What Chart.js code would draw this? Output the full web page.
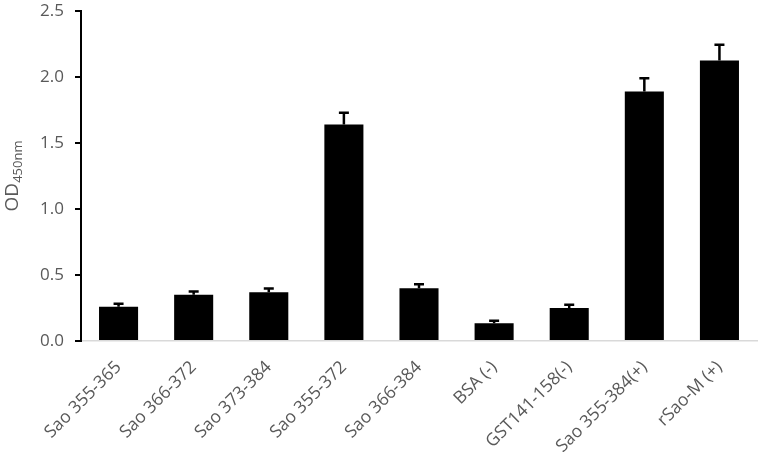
<!DOCTYPE html>
<html>
<head>
<meta charset="utf-8">
<script src="https://cdn.jsdelivr.net/npm/chart.js@4"></script>
<style>
    html, body { margin: 0; padding: 0; background: #fff; }
    #wrap { width: 765px; height: 460px; position: relative; }
</style>
</head>
<body>
<div id="wrap"><canvas id="odChart"></canvas></div>
<script>
const categories = [
    'Sao 355-365', 'Sao 366-372', 'Sao 373-384', 'Sao 355-372', 'Sao 366-384',
    'BSA (-)', 'GST141-158(-)', 'Sao 355-384(+)', 'rSao-M (+)'
];
const odValues = [0.26, 0.35, 0.37, 1.64, 0.40, 0.135, 0.25, 1.89, 2.125];
const odErrors = [0.023, 0.025, 0.027, 0.09, 0.03, 0.018, 0.024, 0.10, 0.12];
const yTicks = [0, 0.5, 1.0, 1.5, 2.0, 2.5];

const textGrey = '#595959';

// upper error bars drawn on top of each bar
const errorBarPlugin = {
    id: 'errorBars',
    afterDatasetsDraw(chart) {
        const ctx = chart.ctx;
        const meta = chart.getDatasetMeta(0);
        const yScale = chart.scales.y;
        ctx.save();
        ctx.strokeStyle = '#000';
        ctx.lineWidth = 2.5;
        meta.data.forEach(function (bar, i) {
            const x = bar.x;
            const yTop = yScale.getPixelForValue(odValues[i] + odErrors[i]);
            ctx.beginPath();
            ctx.moveTo(x, bar.y);
            ctx.lineTo(x, yTop);
            ctx.moveTo(x - 5, yTop);
            ctx.lineTo(x + 5, yTop);
            ctx.stroke();
        });
        ctx.restore();
    }
};

// y title with subscript: OD450nm
const yTitlePlugin = {
    id: 'yTitle',
    afterDraw(chart) {
        const ctx = chart.ctx;
        const area = chart.chartArea;
        const cy = (area.top + area.bottom) / 2;
        ctx.save();
        ctx.translate(18, cy);
        ctx.rotate(-Math.PI / 2);
        ctx.fillStyle = textGrey;
        ctx.textBaseline = 'alphabetic';
        ctx.font = '19px "Open Sans"';
        const main = 'OD';
        const sub = '450nm';
        const wMain = ctx.measureText(main).width;
        ctx.font = '13px "Open Sans"';
        const wSub = ctx.measureText(sub).width;
        const start = -(wMain + wSub) / 2;
        ctx.font = '19px "Open Sans"';
        ctx.fillText(main, start, 0);
        ctx.font = '13px "Open Sans"';
        ctx.fillText(sub, start + wMain, 4);
        ctx.restore();
    }
};

new Chart(document.getElementById('odChart'), {
    type: 'bar',
    data: {
        labels: categories,
        datasets: [
            {
                data: odValues,
                backgroundColor: '#000',
                borderWidth: 0,
                categoryPercentage: 1,
                barPercentage: 0.52
            }
        ]
    },
    options: {
        responsive: true,
        maintainAspectRatio: false,
        animation: false,
        layout: {
            padding: { top: 0, right: 8, left: 0, bottom: 0 }
        },
        plugins: {
            legend: { display: false },
            tooltip: { enabled: false }
        },
        scales: {
            x: {
                grid: { display: false },
                border: { color: '#d9d9d9', width: 1.5 },
                ticks: {
                    color: textGrey,
                    font: { family: '"Open Sans"', size: 17.5 },
                    minRotation: 45,
                    maxRotation: 45,
                    padding: 8
                },
                afterFit(scale) { scale.height = 119; }
            },
            y: {
                min: 0,
                max: 2.5,
                afterBuildTicks(scale) {
                    scale.ticks = yTicks.map(function (v) { return { value: v }; });
                },
                border: { color: '#000', width: 2 },
                grid: {
                    drawOnChartArea: false,
                    color: '#000',
                    lineWidth: 2,
                    tickLength: 6
                },
                ticks: {
                    color: textGrey,
                    font: { family: '"Open Sans"', size: 17 },
                    padding: 11,
                    callback: function (value) { return Number(value).toFixed(1); }
                },
                afterFit(scale) {
                    scale.width = 81;
                    scale.paddingTop = 11;
                    scale.paddingBottom = 10;
                }
            }
        }
    },
    plugins: [errorBarPlugin, yTitlePlugin]
});
</script>
</body>
</html>
